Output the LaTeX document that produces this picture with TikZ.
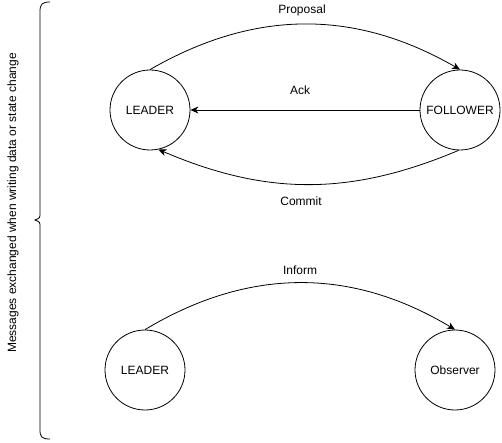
\documentclass[tikz,border=0pt]{standalone}
\usepackage{fontspec}
\setmainfont{Liberation Sans}
\usepackage{tikz}
\usetikzlibrary{arrows.meta}

\begin{document}
\begin{tikzpicture}[x=1pt,y=1pt]

        \tikzstyle{peer}=[draw,circle,minimum size=80pt,inner sep=0pt,line width=0.8pt]
        \tikzstyle{msg}=[-{Stealth[length=8pt,width=7pt,inset=2.5pt]},line width=0.8pt]
        \tikzstyle{lbl}=[inner sep=0pt]

        \useasboundingbox (0,0) rectangle (502,442);
        \fontsize{12}{14}\selectfont

        %% write path
        \node [peer] (leader) at (150,332) {LEADER};
        \node [peer] (follower) at (460,332) {FOLLOWER};

        \draw [msg] (leader.north) to[bend left=30] (follower.north);
        \draw [msg] (follower.west) -- (leader.east);
        \draw [msg] (follower.-92) to[bend left=23] (leader.-78);

        \node [lbl] (proposal) at (302,432) {Proposal};
        \node [lbl] (ack) at (300,352) {Ack};
        \node [lbl] (commit) at (301,241) {Commit};

        %% observer
        \node [peer] (leader2) at (145,72) {LEADER};
        \node [peer] (observer) at (455,72) {Observer};

        \draw [msg] (leader2.north) to[bend left=31] (observer.north);
        \node [lbl] (inform) at (300,172) {Inform};

        %% brace + caption
        \draw [line width=0.8pt] (50,440) .. controls (42,440) and (40,438) .. (40,430) -- (40,229)
            .. controls (40,224) .. (35,222) .. controls (40,220) .. (40,215) -- (40,12)
            .. controls (40,5) and (42,3) .. (50,3);
        \node [lbl,rotate=90] (caption) at (13,239) {Messages exchanged when writing data or state change};

\end{tikzpicture}
\end{document}
